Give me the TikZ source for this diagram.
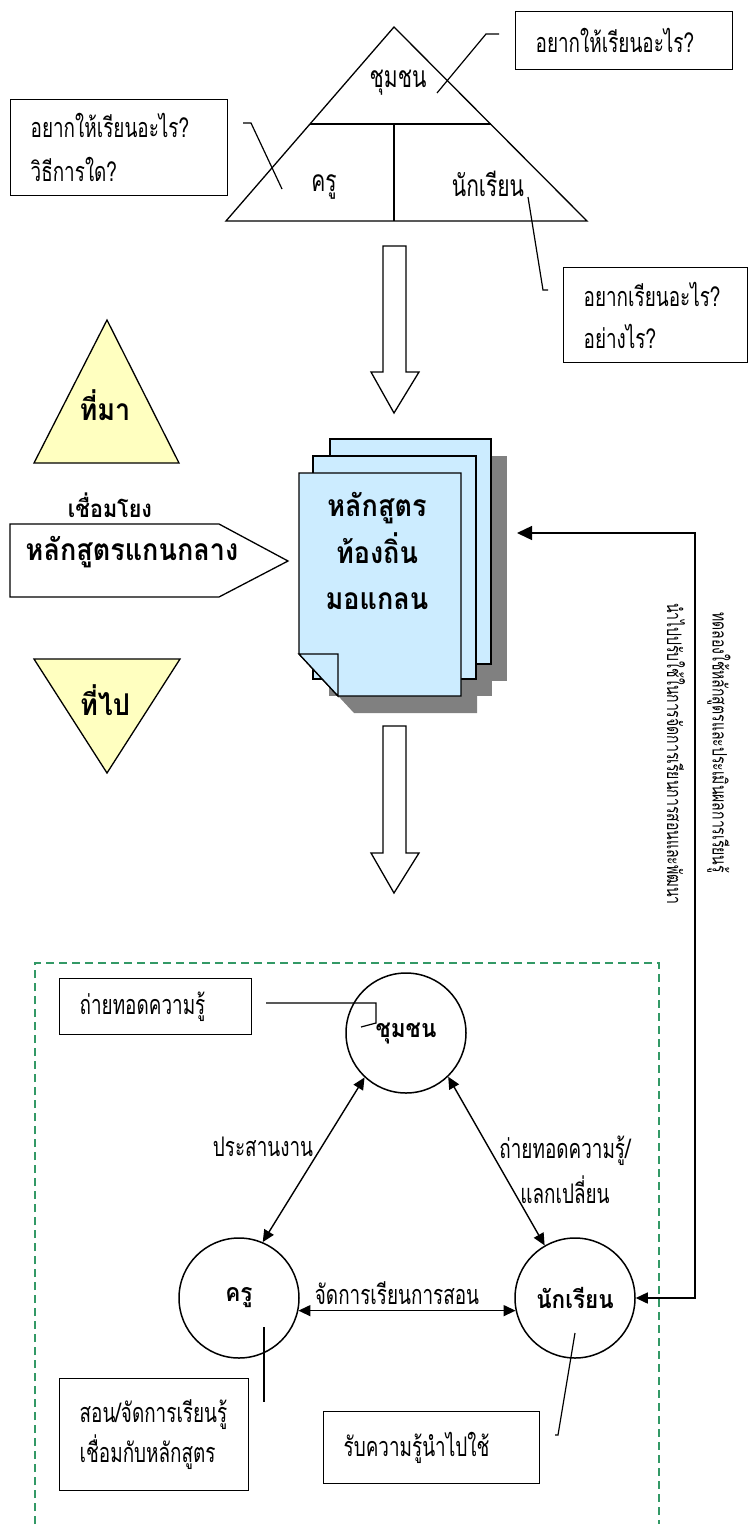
\documentclass[tikz,border=0pt]{standalone}
\usepackage{fontspec}
\usetikzlibrary{arrows.meta}
\newfontfamily\thl[Script=Thai,FakeStretch=0.7]{Loma}
\newfontfamily\thb[Script=Thai,FakeStretch=0.9]{Loma}
\definecolor{pagefill}{HTML}{CCECFF}
\definecolor{trifill}{HTML}{FFFFC0}
\definecolor{framegreen}{HTML}{339966}
\definecolor{shadowgray}{HTML}{808080}
\tikzset{
  outline/.style={draw=black, line width=1.3pt},
  callbox/.style={outline, rectangle, inner xsep=20pt, inner ysep=0pt, align=left, anchor=north west},
  leader/.style={draw=black, line width=1.2pt},
  lighttext/.style={font={\thl\fontsize{27}{40}\selectfont}, inner sep=0pt},
  toplabel/.style={font={\thl\fontsize{30}{40}\selectfont}, inner sep=0pt},
  boldtext/.style={font={\thb\bfseries\fontsize{30}{46}\selectfont}, inner sep=0pt, align=center},
  circnode/.style={outline, line width=1.5pt, circle, minimum size=120pt, inner sep=0pt,
                   font={\thb\bfseries\fontsize{25}{30}\selectfont}},
  twoway/.style={draw=black, line width=1.4pt, {Triangle[length=12pt,width=11pt]}-{Triangle[length=12pt,width=11pt]}},
  blockarrow/.style={outline, fill=white},
  yellowtri/.style={outline, fill=trifill},
  paper/.style={outline, fill=pagefill},
  vtext/.style={font={\thl\fontsize{20}{20}\selectfont}, inner sep=0pt, rotate=-90, anchor=west}
}
\begin{document}
\begin{tikzpicture}[x=1pt, y=-1pt]
\path[use as bounding box, fill=white] (0,0) rectangle (747,1528);

% ---------- top triangle: community / teacher / student ----------
\draw[outline] (394,27) -- (587,221) -- (226,221) -- cycle;
\draw[outline] (310,124) -- (491,124);
\draw[outline] (394,124) -- (394,221);
\node[toplabel] (tc) at (398,83) {ชุมชน};
\node[toplabel] (tk) at (324,187) {ครู};
\node[toplabel] (tn) at (488,184) {นักเรียน};

% callouts of the triangle
\node[callbox, minimum width=217pt, minimum height=58pt, text width=177pt,
      font={\thl\fontsize{27}{40}\selectfont}] (qc) at (515,11) {อยากให้เรียนอะไร?};
\node[callbox, minimum width=217pt, minimum height=96pt, text width=177pt,
      font={\thl\fontsize{27}{44}\selectfont}] (qk) at (10,99) {อยากให้เรียนอะไร?\\วิธีการใด?};
\node[callbox, minimum width=184pt, minimum height=95pt, text width=144pt,
      font={\thl\fontsize{27}{42}\selectfont}] (qn) at (563,267) {อยากเรียนอะไร?\\อย่างไร?};
\coordinate (qc1) at (499,34);  \coordinate (qc2) at (486,34);  \coordinate (qc3) at (437,93);
\coordinate (qk1) at (243,123); \coordinate (qk2) at (251,123); \coordinate (qk3) at (282,189);
\coordinate (qn1) at (528,197); \coordinate (qn2) at (543,290); \coordinate (qn3) at (548,290);
\draw[leader] (qc1) -- (qc2) -- (qc3);
\draw[leader] (qk1) -- (qk2) -- (qk3);
\draw[leader] (qn1) -- (qn2) -- (qn3);

% ---------- block arrows ----------
\draw[blockarrow] (383,246) -- (406,246) -- (406,372) -- (419,372) -- (394,413) -- (371,372) -- (383,372) -- cycle;
\draw[blockarrow] (383,726) -- (406,726) -- (406,853) -- (419,853) -- (394,893) -- (371,853) -- (383,853) -- cycle;

% ---------- source / link / destination ----------
\draw[yellowtri] (107,320) -- (179,463) -- (34,463) -- cycle;
\node[boldtext] (src) at (105,405) {ที่มา};
\draw[yellowtri] (34,659) -- (180,659) -- (107,773) -- cycle;
\node[boldtext] (dst) at (105,700) {ที่ไป};
\node[font={\thb\bfseries\fontsize{24}{24}\selectfont}, inner sep=0pt] (lnk) at (110,505) {เชื่อมโยง};
\draw[outline, fill=white] (10,524) -- (219,524) -- (288,561) -- (219,597) -- (10,597) -- cycle;
\node[boldtext] (core) at (132,552) {หลักสูตรแกนกลาง};

% ---------- stacked curriculum pages ----------
\fill[shadowgray] (346,456) rectangle (507,681);
\fill[shadowgray] (329,473) rectangle (492,696);
\fill[shadowgray] (315,490) -- (477,490) -- (477,713) -- (354,713) -- (315,671) -- cycle;
\draw[paper] (330,439) rectangle (491,664);
\draw[paper] (313,456) rectangle (476,679);
\draw[paper] (299,473) -- (461,473) -- (461,696) -- (338,696) -- (299,654) -- cycle;
\draw[paper] (299,654) -- (338,654) -- (338,696) -- cycle;
\node[boldtext, font={\thb\bfseries\fontsize{30}{46.5}\selectfont}] (doc) at (377,551) {หลักสูตร\\ท้องถิ่น\\มอแกลน};

% ---------- feedback path from students back to the curriculum ----------
\coordinate (docin) at (517,533);
\coordinate (fbcorner) at (695,533);
\node[vtext] (fb1) at (676,603) {นำไปปรับใช้ในการจัดการเรียนการสอนและพัฒนา};
\node[vtext] (fb2) at (719,612) {ทดลองใช้หลักสูตรและประเมินผลการเรียนรู้};

% ---------- lower frame ----------
\draw[framegreen, line width=1.2pt, dash pattern=on 8pt off 5pt] (35,1524) -- (35,963) -- (659,963) -- (659,1524);

% circles
\node[circnode] (cc) at (406,1033) {ชุมชน};
\node[circnode] (ck) at (239,1298) {ครู};
\node[circnode] (cn) at (575,1298) {นักเรียน};

\draw[twoway] (cc.227) -- (ck.67);
\draw[twoway] (cc.314) -- (cn.120);
\draw[twoway] (ck.-12.5) -- (cn.192.5);
\draw[draw=black, line width=1.4pt, {Triangle[length=15pt,width=14pt]}-{Triangle[length=12pt,width=11pt]}]
  (docin) -- (fbcorner) |- (cn.east);

\node[lighttext] (l1) at (263,1147) {ประสานงาน};
\node[lighttext, align=center, font={\thl\fontsize{27}{45}\selectfont}] (l2) at (565,1170) {ถ่ายทอดความรู้/\\แลกเปลี่ยน};
\node[lighttext] (l3) at (397,1293) {จัดการเรียนการสอน};

% callouts of the circles
\node[callbox, minimum width=192pt, minimum height=56pt, text width=152pt,
      font={\thl\fontsize{27}{40}\selectfont}] (bc) at (59,978) {ถ่ายทอดความรู้};
\node[callbox, minimum width=189pt, minimum height=112pt, text width=149pt,
      font={\thl\fontsize{27}{40}\selectfont}] (bk) at (59,1378) {สอน/จัดการเรียนรู้\\เชื่อมกับหลักสูตร};
\node[callbox, minimum width=216pt, minimum height=72pt, text width=176pt,
      font={\thl\fontsize{27}{40}\selectfont}] (bn) at (323,1411) {รับความรู้นำไปใช้};
\coordinate (bc1) at (266,1003); \coordinate (bc2) at (376,1003); \coordinate (bc3) at (376,1023); \coordinate (bc4) at (361,1027);
\coordinate (bk1) at (264,1327); \coordinate (bk2) at (264,1402);
\coordinate (bn1) at (575,1333); \coordinate (bn2) at (558,1435); \coordinate (bn3) at (555,1435);
\draw[leader] (bc1) -- (bc2) -- (bc3) -- (bc4);
\draw[leader] (bk1) -- (bk2);
\draw[leader] (bn1) -- (bn2) -- (bn3);
\end{tikzpicture}
\end{document}
